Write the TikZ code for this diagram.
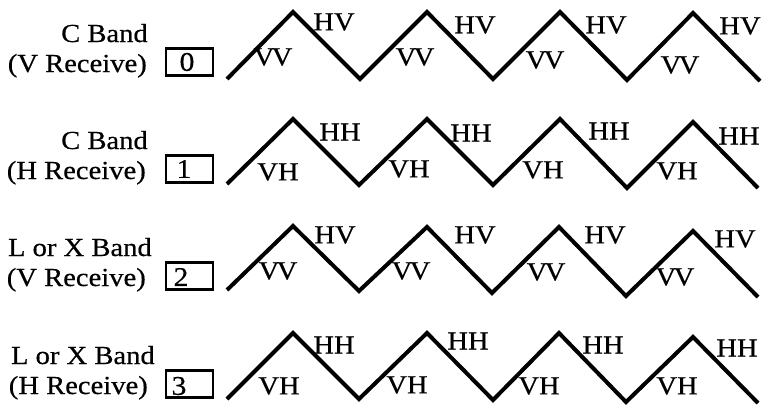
\documentclass[tikz,border=0pt]{standalone}
\usepackage{fontspec}
\setmainfont{Liberation Serif}[FakeStretch=1.1,FakeBold=0.5]
\begin{document}
\begin{tikzpicture}[x=1pt,y=-1pt,
  txt/.style={inner sep=0pt,font=\fontsize{26}{28}\selectfont},
  side/.style={txt,anchor=base east},
  pol/.style={txt,anchor=center},
  zig/.style={line width=4pt,line join=miter,line cap=butt},
  numbox/.style={draw,line width=2.6pt,minimum width=47pt,minimum height=27pt,inner sep=0pt},
  digit/.style={inner sep=0pt,font=\fontsize{27}{27}\selectfont}]
\useasboundingbox (0,0) rectangle (762,404);
% ---------- row 0
\node[side] (r0a) at (148,42) {C Band};
\node[side] (r0b) at (147,72) {(V Receive)};
\node[numbox] (b0) at (189.5,62) {};
\node[digit] (d0) at (187,62) {0};
\draw[zig] (227,79) -- (293,12) -- (360,79) -- (427,12) -- (493,79) -- (560,12) -- (627,80) -- (693,13) -- (760,81);
\node[pol] (l00) at (273,57) {V\kern-0.1em V};
\node[pol] (l01) at (334,22) {HV};
\node[pol] (l02) at (415,57) {V\kern-0.1em V};
\node[pol] (l03) at (475,25) {HV};
\node[pol] (l04) at (545,60) {V\kern-0.1em V};
\node[pol] (l05) at (606,25) {HV};
\node[pol] (l06) at (680,65) {V\kern-0.1em V};
\node[pol] (l07) at (740,26) {HV};
% ---------- row 1
\node[side] (r1a) at (148,149) {C Band};
\node[side] (r1b) at (146,179) {(H Receive)};
\node[numbox] (b1) at (189.5,169) {};
\node[digit] (d1) at (184,169) {1};
\draw[zig] (227,184) -- (293,119) -- (359,185) -- (427,119) -- (493,185) -- (560,119) -- (627,188) -- (693,122) -- (758,188);
\node[pol] (l10) at (278,172) {VH};
\node[pol] (l11) at (340,132) {HH};
\node[pol] (l12) at (409,169) {VH};
\node[pol] (l13) at (471,133) {HH};
\node[pol] (l14) at (543,170) {VH};
\node[pol] (l15) at (609,131) {HH};
\node[pol] (l16) at (677,171) {VH};
\node[pol] (l17) at (739,136) {HH};
% ---------- row 2
\node[side] (r2a) at (152,256) {L or X Band};
\node[side] (r2b) at (146,286) {(V Receive)};
\node[numbox] (b2) at (189.5,276) {};
\node[digit] (d2) at (181,277) {2};
\draw[zig] (227,290) -- (293,226) -- (359,291) -- (427,227) -- (492,293) -- (559,227) -- (626,296) -- (693,231) -- (758,297);
\node[pol] (l20) at (278,271) {V\kern-0.1em V};
\node[pol] (l21) at (335,235) {HV};
\node[pol] (l22) at (411,271) {V\kern-0.1em V};
\node[pol] (l23) at (475,235) {HV};
\node[pol] (l24) at (546,272) {V\kern-0.1em V};
\node[pol] (l25) at (605,235) {HV};
\node[pol] (l26) at (675,277) {V\kern-0.1em V};
\node[pol] (l27) at (735,239) {HV};
% ---------- row 3
\node[side] (r3a) at (155,364) {L or X Band};
\node[side] (r3b) at (148,394) {(H Receive)};
\node[numbox] (b3) at (189.5,384) {};
\node[digit] (d3) at (179,386) {3};
\draw[zig] (227,399) -- (293,333) -- (359,399) -- (427,333) -- (493,400) -- (559,333) -- (626,402) -- (693,337) -- (758,403);
\node[pol] (l30) at (279,386) {VH};
\node[pol] (l31) at (334,345) {HH};
\node[pol] (l32) at (407,385) {VH};
\node[pol] (l33) at (468,341) {HH};
\node[pol] (l34) at (539,386) {VH};
\node[pol] (l35) at (603,345) {HH};
\node[pol] (l36) at (677,386) {VH};
\node[pol] (l37) at (737,348) {HH};
\end{tikzpicture}
\end{document}
